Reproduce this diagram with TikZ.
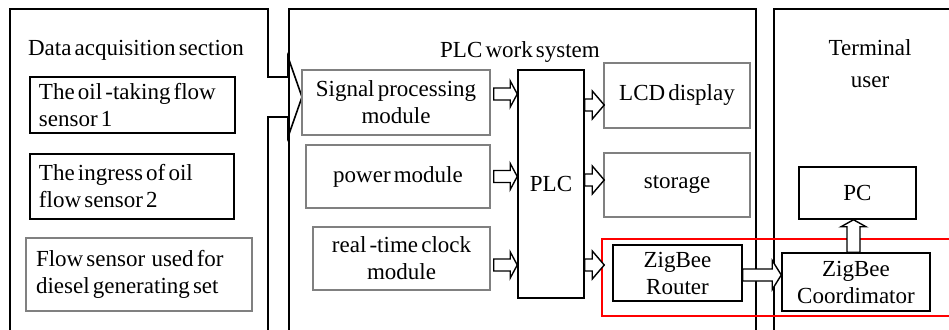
\documentclass[tikz,border=0pt]{standalone}
\usepackage{fontspec}
\setmainfont{Liberation Serif}[WordSpace=0.55]
\usetikzlibrary{calc}
\definecolor{boxgray}{HTML}{808080}
\newcommand\natsp{\spaceskip=0pt\xspaceskip=0pt\relax}
\tikzset{
  txt/.style={font=\fontsize{23}{27}\selectfont, inner sep=0pt, align=center},
  bbox/.style={txt, draw=black, line width=1.5pt, minimum width=#1},
  gbox/.style={txt, draw=boxgray, line width=1.5pt, minimum width=#1},
  panel/.style={draw=black, line width=1.6pt},
  harr/.style args={#1/#2/#3}{draw=black, fill=white, line width=1.4pt, line join=miter,
    to path={($(\tikztostart)+(0,#3)$) -- ($(\tikztotarget)+(-#1,#3)$) -- ($(\tikztotarget)+(-#1,#2)$) -- (\tikztotarget)
      -- ($(\tikztotarget)+(-#1,-#2)$) -- ($(\tikztotarget)+(-#1,-#3)$) -- ($(\tikztostart)+(0,-#3)$) -- cycle}},
  varr/.style args={#1/#2/#3}{draw=black, fill=white, line width=1.4pt, line join=miter,
    to path={($(\tikztostart)+(-#3,0)$) -- ($(\tikztotarget)+(-#3,#1)$) -- ($(\tikztotarget)+(-#2,#1)$) -- (\tikztotarget)
      -- ($(\tikztotarget)+(#2,#1)$) -- ($(\tikztotarget)+(#3,#1)$) -- ($(\tikztostart)+(#3,0)$) -- cycle}},
}
\begin{document}
\begin{tikzpicture}[x=1pt,y=-1pt]
\useasboundingbox (0,0) rectangle (949,329);
\clip (0,0) rectangle (949,329);
% panels
\draw[panel] (10,340) -- (10,9) -- (268,9) -- (268,77) -- (288,77) -- (288,57) -- (302,97) -- (288,137) -- (288,117) -- (268,117) -- (268,340);
\draw[panel] (289,340) -- (289,9) -- (756,9) -- (756,340);
\draw[panel] (774,340) -- (774,9) -- (960,9);
% titles
\node[txt] (t1) at (136,50) {Data acquisition section};
\node[txt] (t2) at (520,52) {PLC work system};
\node[txt] (t3) at (870,64) {Terminal\\[5pt]user};
% left boxes
\node[bbox=205pt, minimum height=56pt, text width=197pt, inner xsep=4pt, align=left] (b1) at (132.5,105) {\natsp\hspace*{5pt}The oil -taking flow\\\hspace*{5pt}sensor 1};
\node[bbox=204pt, minimum height=65pt, text width=196pt, inner xsep=4pt, align=left] (b2) at (132,186.5) {\natsp\hspace*{5pt}The ingress of oil\\\hspace*{5pt}flow sensor 2};
\node[gbox=226pt, minimum height=73pt, text width=218pt, inner xsep=4pt, align=left] (b3) at (139,274.5) {\natsp\hspace*{6pt}Flow sensor\ \ used for\\\hspace*{6pt}diesel generating set};
% middle boxes
\node[gbox=188pt, minimum height=65pt] (sig) at (396,102.5) {Signal processing\\module};
\node[gbox=184pt, minimum height=63pt] (pow) at (398,176.5) {power module};
\node[gbox=177pt, minimum height=63pt] (clk) at (401.5,258.5) {real -time clock\\module};
\node[bbox=66pt, minimum height=228pt] (plc) at (551,184) {PLC};
\node[gbox=146pt, minimum height=65pt] (lcd) at (677,95.5) {LCD display};
\node[gbox=146pt, minimum height=64pt] (sto) at (677,185) {storage};
% zigbee
\node[bbox=129pt, minimum height=56pt] (rtr) at (677.5,273) {ZigBee\\Router};
\node[bbox=148pt, minimum height=58pt] (crd) at (856,282) {ZigBee\\Coordimator};
\node[bbox=117pt, minimum height=52pt] (pc) at (857.5,193) {PC};
\node[draw=red, line width=1.5pt, minimum width=358pt, minimum height=77pt, inner sep=0pt] (zb) at (781,277.5) {};
% arrows into PLC
\draw[harr=7/13/6] ([xshift=3pt,yshift=8.5pt]sig.east) to ([yshift=8.5pt]sig.east -| plc.west);
\draw[harr=7/13/6] ([xshift=3pt]pow.east) to (pow.east -| plc.west);
\draw[harr=7/13/6] ([xshift=3pt,yshift=-6.5pt]clk.east) to ([yshift=-6.5pt]clk.east -| plc.west);
% arrows out of PLC
\draw[harr=12/14/6] ([yshift=-9.5pt]lcd.west -| plc.east) to ([xshift=1pt,yshift=-9.5pt]lcd.west);
\draw[harr=12/14/6] ([yshift=5pt]sto.west -| plc.east) to ([xshift=1pt,yshift=5pt]sto.west);
\draw[harr=12/14/6] ([yshift=8pt]rtr.west -| plc.east) to ([xshift=3pt,yshift=8pt]rtr.west -| zb.west);
% zigbee arrows
\draw[harr=9/14.5/6] ([yshift=-2pt]rtr.east) to ([yshift=-2pt]rtr.east -| crd.west);
\draw[varr=7/12.5/6.5] ([xshift=-2.5pt]crd.north) to ([xshift=-2.5pt]crd.north |- pc.south);
\end{tikzpicture}
\end{document}
